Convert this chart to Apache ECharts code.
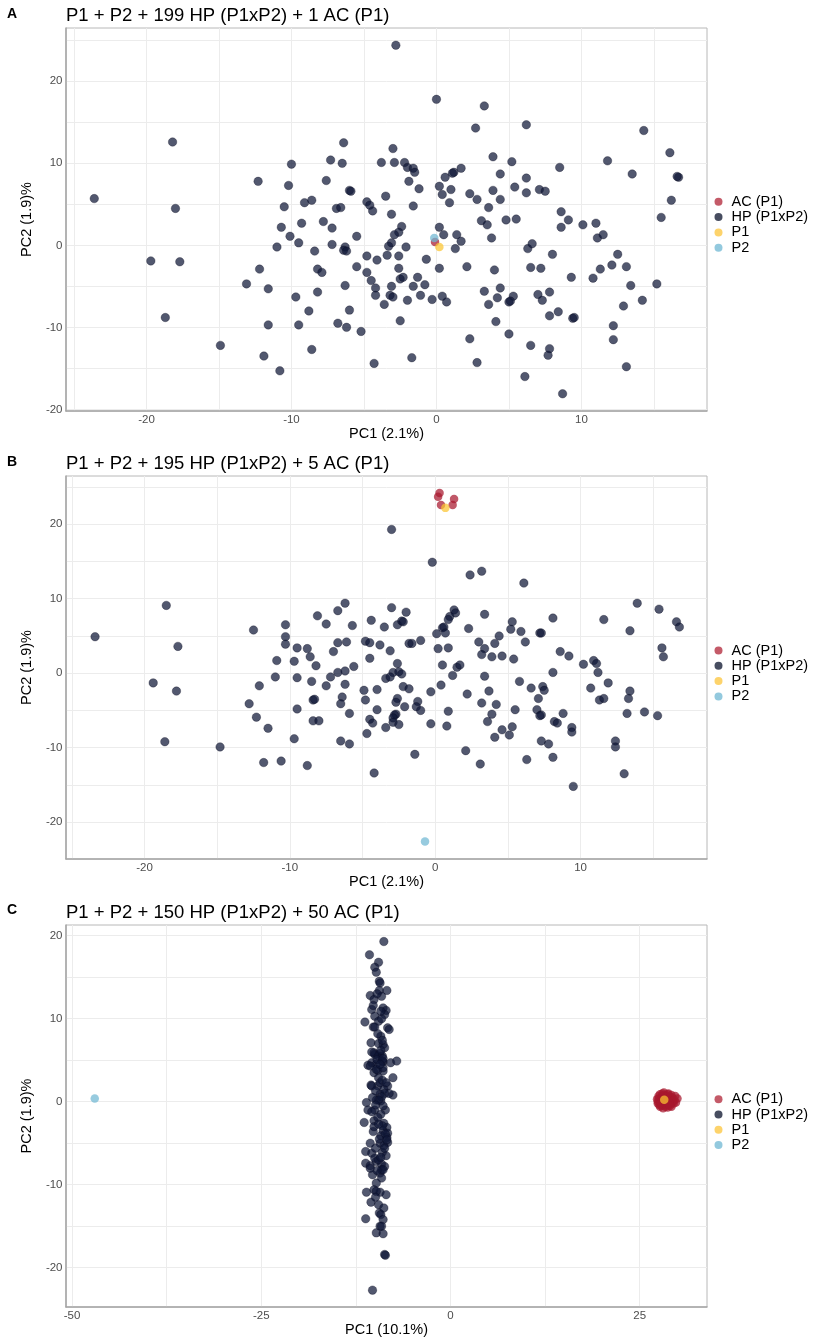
<!DOCTYPE html>
<html>
<head>
<meta charset="utf-8">
<script src="https://cdn.jsdelivr.net/npm/echarts@6/dist/echarts.min.js"></script>
<style>
html, body { margin: 0; padding: 0; background: #fff; }
#main { width: 820px; height: 1339px; }
</style>
</head>
<body>
<div id="main"></div>
<script>
// 面板A：199 HP + 1 AC
var aHP = [
  [-2.8,24.4],[-18.2,12.6],[-6.4,12.5],[-3.0,11.8],[-10.0,9.9],[-7.3,10.4],[-6.5,10.0],[-3.8,10.1],[-2.9,10.1],[-2.2,10.1],
  [-2.0,9.5],[-12.3,7.8],[-10.2,7.3],[-7.6,7.9],[-1.9,7.8],[-6.0,6.7],[-5.9,6.6],[-3.5,6.0],[-23.6,5.7],[-9.1,5.2],
  [-8.6,5.5],[-10.5,4.7],[-6.9,4.5],[-6.6,4.6],[-4.8,5.3],[-4.6,4.9],[-18.0,4.5],
  [-4.4,4.2],[-3.1,3.8],[-10.7,2.2],[-9.3,2.7],[-7.8,2.9],[-7.2,2.1],[-2.4,2.3],[-2.6,1.6],[-2.9,1.3],[-10.1,1.1],
  [-5.5,1.1],[-9.5,0.3],[-7.2,0.1],[-11.0,-0.2],[-6.3,-0.2],[-3.1,0.3],[-3.3,-0.1],[-2.1,-0.2],[-6.4,-0.6],[-6.2,-0.7],
  [-8.4,-0.7],[-19.7,-1.9],[-17.7,-2.0],[-4.8,-1.3],[-4.1,-1.8],[-3.4,-1.2],[-2.6,-1.3],[-12.2,-2.9],[-5.5,-2.6],[-8.2,-2.9],
  [-7.9,-3.3],[-4.8,-3.3],[-2.6,-2.8],[-4.5,-4.3],[-2.5,-4.1],[-2.3,-3.9],[-13.1,-4.7],[-6.3,-4.9],[-3.1,-5.0],[-4.2,-5.2],
  [-11.6,-5.3],[-8.2,-5.7],[-4.2,-6.1],[-3.2,-6.1],[-3.0,-6.3],[-2.0,-6.7],[-9.7,-6.3],[-3.6,-7.2],[-8.8,-8.0],[-6.0,-7.9],
  [-2.5,-9.2],[-18.7,-8.8],[-11.6,-9.7],[-9.5,-9.7],[-6.8,-9.5],[-6.2,-10.0],[-5.2,-10.5],[-14.9,-12.2],[-8.6,-12.7],[-11.9,-13.5],
  [-4.3,-14.4],[-10.8,-15.3],[-1.7,-13.7],
  [0.0,17.8],[3.3,17.0],[2.7,14.3],[6.2,14.7],[14.3,14.0],[16.1,11.3],[3.9,10.8],[5.2,10.2],[11.8,10.3],[8.5,9.5],
  [-1.6,9.4],[-1.5,8.9],[-1.2,6.9],[0.6,8.3],[1.2,8.9],[1.1,8.8],[1.7,9.4],[4.4,8.7],[6.2,8.2],[13.5,8.7],
  [16.7,8.3],[16.6,8.4],[0.2,7.2],[0.4,6.2],[1.0,6.8],[0.9,5.2],[2.3,6.3],[2.8,5.6],[3.9,6.7],[4.4,5.6],
  [5.4,7.1],[6.2,6.4],[7.1,6.8],[7.5,6.6],[3.6,4.6],[-1.6,4.8],[16.2,5.5],[8.6,4.1],
  [9.1,3.1],[8.6,2.2],[10.1,2.5],[11.0,2.7],[11.1,0.9],[11.5,1.3],[15.5,3.4],[3.1,3.0],[3.5,2.5],[4.8,3.1],
  [5.5,3.2],[0.2,2.2],[0.5,1.3],[1.4,1.3],[1.7,0.5],[1.3,-0.4],[3.8,0.9],[6.3,-0.4],[6.6,0.2],[8.0,-1.1],
  [-0.7,-1.7],[0.2,-2.8],[2.1,-2.6],[4.0,-3.0],[6.5,-2.7],[7.2,-2.8],[12.1,-2.4],[12.5,-1.1],[13.1,-2.6],[11.3,-2.9],
  [-1.3,-3.9],[-1.6,-5.0],[-0.8,-4.8],[-1.1,-6.1],[-0.3,-6.6],[0.4,-6.2],[0.7,-6.9],[9.3,-3.9],[10.8,-4.0],[13.4,-4.9],
  [15.2,-4.7],[3.3,-5.6],[4.4,-5.2],[4.2,-6.4],[5.3,-6.2],[5.0,-6.9],[5.1,-6.8],[3.6,-7.2],[7.0,-6.0],[7.8,-5.7],
  [7.3,-6.7],[14.2,-6.7],[12.9,-7.4],[4.1,-9.3],[7.8,-8.6],[8.4,-8.1],[9.4,-8.9],[9.5,-8.8],[12.2,-9.8],[5.0,-10.8],
  [2.3,-11.4],[6.5,-12.2],[7.8,-12.6],[7.7,-13.4],[12.2,-11.5],[2.8,-14.3],[13.1,-14.8],[6.1,-16.0],[8.7,-18.1]
];
var aAC = [[-0.1,0.4]];
var aP1 = [[0.2,-0.2]];
var aP2 = [[-0.15,0.9]];

// 面板B：195 HP + 5 AC
var bHP = [
  [-3.0,19.3],[-18.5,9.1],[-6.2,9.4],[-3.0,8.8],[-2.0,8.2],[-6.7,8.4],[-8.1,7.7],[-7.5,6.6],[-10.3,6.5],[-5.7,6.4],
  [-4.4,7.1],[-3.5,6.2],[-2.6,6.5],[-2.3,7.0],[-2.2,6.9],[-12.5,5.8],[-23.4,4.9],[-10.3,4.9],[-10.3,3.9],[-17.7,3.6],
  [-9.5,3.4],[-8.8,3.3],[-6.7,4.1],[-6.1,4.2],[-4.8,4.3],[-4.5,4.1],[-3.8,3.8],[-3.1,3.0],[-1.8,4.0],[-7.0,2.9],[-8.6,2.2],
  [-10.9,1.7],[-9.7,1.6],[-8.2,1.0],[-4.5,2.0],[-5.6,0.9],[-2.6,1.3],[-6.7,0.1],[-6.2,0.3],[-2.9,0.1],[-2.5,0.2],
  [-2.3,-0.1],[-11.0,-0.5],[-9.5,-0.6],[-7.2,-0.5],[-3.4,-0.7],[-3.1,-0.5],[-19.4,-1.3],[-12.1,-1.7],[-8.5,-1.1],[-7.5,-1.7],
  [-6.2,-1.5],[-2.2,-1.8],[-17.8,-2.4],[-4.9,-2.3],[-4.0,-2.2],[-1.8,-2.1],[-8.4,-3.6],[-8.3,-3.5],[-6.4,-3.2],[-4.8,-3.6],
  [-2.6,-3.4],[-2.7,-3.9],[-12.8,-4.1],[-6.5,-4.1],[-2.1,-4.5],[-9.5,-4.8],[-4.0,-4.9],[-5.9,-5.4],[-2.7,-5.5],[-2.8,-5.6],
  [-12.3,-5.9],[-2.9,-6.0],[-8.4,-6.4],[-8.0,-6.4],[-4.5,-6.2],[-4.3,-6.7],[-2.9,-6.6],[-2.5,-6.9],[-3.4,-7.3],[-11.5,-7.4],
  [-4.7,-8.1],[-9.7,-8.8],[-6.5,-9.1],[-5.9,-9.5],[-18.6,-9.2],[-14.8,-9.9],[-11.8,-12.0],[-10.6,-11.8],[-8.8,-12.4],[-4.2,-13.4],
  [-0.2,14.9],[2.4,13.2],[3.2,13.7],[6.1,12.1],[13.9,9.4],[15.4,8.6],[16.6,6.9],[16.8,6.2],[1.3,8.5],[1.4,8.1],
  [1.0,7.6],[0.9,7.2],[3.4,7.9],[8.1,7.4],[11.6,7.2],[5.3,6.9],[0.5,6.1],[0.6,6.2],[2.3,6.0],[5.2,5.9],
  [5.9,5.6],[7.2,5.4],[7.3,5.4],[13.4,5.7],[0.1,5.3],[0.7,5.4],[4.4,5.0],[-1.6,4.0],[-1.0,4.4],[3.0,4.2],
  [4.1,4.0],[6.2,4.2],[0.2,3.3],[0.9,3.4],[3.4,3.3],[15.6,3.4],[3.2,2.5],[8.6,2.9],[9.2,2.3],[3.9,2.2],
  [4.6,2.3],[5.4,1.9],[15.7,2.2],
  [0.5,1.1],[1.5,0.8],[1.7,1.1],[1.2,-0.3],[0.4,-1.6],[3.4,-0.4],[5.8,-1.1],[8.1,0.1],[10.2,1.2],[10.9,1.7],
  [11.1,1.3],[11.2,0.1],[11.9,-1.3],[10.7,-2.0],[-0.3,-2.5],[2.2,-2.8],[3.7,-2.4],[6.6,-2.0],[7.4,-1.8],[7.5,-2.3],
  [7.1,-3.4],[13.4,-2.4],[13.3,-3.4],[11.3,-3.6],[11.6,-3.4],[-1.2,-3.8],[-1.3,-4.5],[-1.0,-5.0],[0.9,-5.1],[3.2,-4.0],
  [4.2,-4.2],[5.5,-4.9],[3.9,-5.5],[7.0,-4.9],[7.3,-5.6],[7.2,-5.7],[8.8,-5.4],[13.2,-5.4],[14.4,-5.2],[15.3,-5.7],
  [-0.3,-6.8],[0.8,-7.1],[3.6,-6.5],[4.6,-7.6],[5.3,-7.2],[5.1,-8.3],[4.1,-8.6],[8.2,-6.5],[8.4,-6.7],[9.4,-7.3],
  [9.4,-7.9],[7.3,-9.1],[7.8,-9.5],[12.4,-9.1],[12.4,-9.9],[-1.4,-10.9],[2.1,-10.4],[6.3,-11.6],[8.1,-11.3],[3.1,-12.2],
  [13.0,-13.5],[9.5,-15.2]
];
var bAC = [[0.3,24.2],[0.2,23.7],[1.3,23.4],[0.4,22.6],[1.2,22.6]];
var bP1 = [[0.7,22.2]];
var bP2 = [[-0.7,-22.6]];

// 面板C：150 HP + 50 AC
var cHP = [
  [-8.8,19.3],[-10.7,17.7],[-9.5,16.8],[-10.0,16.2],[-9.8,15.6],[-9.4,14.5],[-9.3,14.3],[-9.4,13.4],[-8.4,13.4],[-10.6,12.8],
  [-10.1,12.3],[-9.1,12.7],[-10.4,11.1],[-8.9,11.3],[-8.5,11.0],[-10.0,10.3],[-8.7,10.5],[-9.5,9.7],[-11.3,9.6],[-9.1,10.0],
  [-10.2,9.0],[-8.3,8.9],[-8.1,8.7],[-9.2,7.9],[-10.5,7.1],[-9.5,7.0],[-8.9,6.9],[-8.7,6.5],[-10.1,5.9],[-9.3,5.8],
  [-9.6,5.5],[-9.0,5.5],[-10.4,4.7],[-10.9,4.4],[-9.8,4.5],[-8.9,4.8],[-7.9,4.7],[-7.1,4.9],[-10.1,3.5],[-8.9,3.7],
  [-9.5,2.9],[-7.6,2.9],[-10.5,2.0],[-9.6,1.9],[-8.3,1.9],[-8.8,1.5],[-9.3,0.9],[-7.6,0.8],[-8.1,1.0],[-9.8,0.2],
  [-11.1,-0.1],[-9.2,0.1],[-10.9,-1.0],[-10.0,-1.0],[-8.6,-1.0],[-9.2,-1.5],[-11.4,-2.5],[-10.1,-2.3],[-8.8,-2.6],[-8.4,-3.1],
  [-10.2,-3.6],[-8.9,-3.5],[-8.3,-3.8],[-9.2,-4.1],[-8.4,-4.3],[-10.6,-5.0],[-9.3,-5.0],[-8.3,-4.9],[-11.2,-6.0],[-10.4,-6.2],
  [-9.0,-6.1],[-8.5,-6.5],[-11.2,-7.4],[-10.6,-7.7],[-9.8,-7.2],[-9.1,-7.5],[-8.7,-7.8],[-10.3,-8.8],[-9.3,-8.6],[-9.1,-9.2],
  [-9.8,-9.8],[-11.1,-10.9],[-10.1,-10.6],[-9.3,-10.9],[-8.5,-11.2],[-10.5,-12.1],[-9.5,-12.4],[-9.4,-13.4],[-9.2,-13.6],[-8.9,-14.2],
  [-11.2,-14.1],[-9.3,-15.0],[-9.8,-15.8],[-8.9,-15.9],[-8.7,-18.4],[-8.6,-18.5],[-10.3,-22.7],
  [-10.0,5.7],[-9.7,5.1],[-10.6,4.3],[-9.0,4.9],[-10.4,1.9],[-9.3,2.3],[-8.7,1.0],[-9.1,0.6],[-9.5,0.2],[-9.9,-0.4],
  [-10.4,-1.2],[-9.1,-8.2],[-9.8,-10.8],[-9.1,-15.0],[-9.2,6.2],[-8.9,5.2],[-9.6,3.8],[-9.0,2.6],[-8.5,2.3],[-9.9,1.3],
  [-10.3,0.5],[-8.9,-0.5],[-9.6,-1.9],[-9.0,-2.9],[-8.6,-3.9],[-9.4,-4.5],[-8.8,-5.3],[-9.9,-5.6],[-10.0,-6.8],[-9.5,-7.0],
  [-8.9,-8.2],[-9.7,-8.3],[-10.1,-3.0],[-9.5,-2.7],[-9.8,3.9],[-10.4,6.0],[-9.0,7.4],[-9.6,8.2],[-10.0,9.0],[-9.2,10.9],
  [-10.2,11.6],[-9.7,13.0],[-8.9,4.1],[-9.3,4.5],[-8.4,-4.6],[-8.7,-5.6],[-9.2,-6.7],[-10.6,-8.0],[-9.9,-11.5],[-8.8,-12.8]
];
var cAC = [
  [28.2,1.1],[27.7,0.9],[28.8,1.0],[27.3,0.3],[27.5,0.7],[29.3,0.5],[30.0,0.4],[29.7,0.7],[27.4,-0.2],[27.7,-0.6],
  [28.1,-0.8],[28.7,-0.7],[29.2,-0.6],[29.5,-0.2],[29.8,-0.1],[27.9,0.3],[28.4,0.5],[28.9,0.1],[28.1,-0.3],[27.6,0.1],
  [29.1,0.3],[28.6,0.7],[28.0,0.7],[28.3,-0.1],[28.8,-0.4],[27.8,-0.3],[29.4,0.0],[28.0,0.0],[28.5,0.2],[27.5,0.4],
  [29.0,0.6],[28.2,0.8],[27.9,-0.5],[28.4,-0.6],[29.1,-0.2],[28.6,-0.1],[27.9,0.5],[28.3,0.4],[29.2,0.8],[27.6,-0.4],
  [28.7,0.9],[28.1,0.2],[29.6,0.2],[28.5,-0.4],[27.4,0.0],[28.9,-0.1],[28.0,1.0],[29.0,-0.5],[27.8,-0.1],[28.4,0.0]
];
var cP1 = [[28.25,0.25]];
var cP2 = [[-47.0,0.4]];

// 刻度
var xTicksAB = [-20, -10, 0, 10];
var xGridAB = [-25, -20, -15, -10, -5, 0, 5, 10, 15];
var yTicksA = [-20, -10, 0, 10, 20];
var yGridA = [-20, -15, -10, -5, 0, 5, 10, 15, 20, 25];
var yTicksB = [-20, -10, 0, 10, 20];
var yGridB = [-20, -15, -10, -5, 0, 5, 10, 15, 20, 25];
var xTicksC = [-50, -25, 0, 25];
var xGridC = [-50, -37.5, -25, -12.5, 0, 12.5, 25];
var yTicksC = [-20, -10, 0, 10, 20];
var yGridC = [-20, -15, -10, -5, 0, 5, 10, 15, 20];

var groups = ['AC (P1)', 'HP (P1xP2)', 'P1', 'P2'];
var panels = [
  {letter: 'A', title: 'P1 + P2 + 199 HP (P1xP2) + 1 AC (P1)', xName: 'PC1 (2.1%)', yName: 'PC2 (1.9)%',
   sets: [aAC, aHP, aP1, aP2], xTicks: xTicksAB, xGrid: xGridAB, yTicks: yTicksA, yGrid: yGridA,
   xMin: -25.55, xMax: 18.66, yMin: -20.2, yMax: 26.5, top: 28, height: 383, titleTop: 6.3, legendTop: 194.3},
  {letter: 'B', title: 'P1 + P2 + 195 HP (P1xP2) + 5 AC (P1)', xName: 'PC1 (2.1%)', yName: 'PC2 (1.9)%',
   sets: [bAC, bHP, bP1, bP2], xTicks: xTicksAB, xGrid: xGridAB, yTicks: yTicksB, yGrid: yGridB,
   xMin: -25.4, xMax: 18.7, yMin: -24.95, yMax: 26.48, top: 476, height: 383, titleTop: 454.6, legendTop: 643},
  {letter: 'C', title: 'P1 + P2 + 150 HP (P1xP2) + 50 AC (P1)', xName: 'PC1 (10.1%)', yName: 'PC2 (1.9)%',
   sets: [cAC, cHP, cP1, cP2], xTicks: xTicksC, xGrid: xGridC, yTicks: yTicksC, yGrid: yGridC,
   xMin: -50.8, xMax: 33.9, yMin: -24.73, yMax: 21.29, top: 925, height: 382, titleTop: 903, legendTop: 1091.7}
];

var fill = {'AC (P1)': '#a8182e', 'HP (P1xP2)': '#0f1737', 'P1': '#fbc531', 'P2': '#6fb7d3'};
var keyFill = {'AC (P1)': '#c45a68', 'HP (P1xP2)': '#474d60', 'P1': '#fdd36b', 'P2': '#93c9de'};
var font = 'Liberation Sans, Arial, sans-serif';

var chart = echarts.init(document.getElementById('main'), null, {renderer: 'canvas'});

var grids = [], xAxes = [], yAxes = [], series = [], titles = [], legends = [];
panels.forEach(function (p, i) {
  grids.push({left: 66, width: 641, top: p.top, height: p.height, show: true,
    borderColor: '#b8b8b8', borderWidth: 1, backgroundColor: '#fff'});
  xAxes.push({
    type: 'value', gridIndex: i, min: p.xMin, max: p.xMax,
    name: p.xName, nameLocation: 'middle', nameGap: 14.5,
    nameTextStyle: {fontFamily: font, fontSize: 14.5, color: '#000'},
    axisLine: {show: true, onZero: false, lineStyle: {color: '#a6a6a6', width: 1.5}},
    axisTick: {show: false, customValues: p.xGrid},
    axisLabel: {customValues: p.xTicks, margin: 2.5, fontFamily: font, fontSize: 11.5, color: '#4d4d4d'},
    splitLine: {show: true, lineStyle: {color: '#ececec', width: 1}}
  });
  yAxes.push({
    type: 'value', gridIndex: i, min: p.yMin, max: p.yMax,
    name: p.yName, nameLocation: 'middle', nameGap: 21, nameRotate: 90,
    nameTextStyle: {fontFamily: font, fontSize: 14.5, color: '#000'},
    axisLine: {show: true, onZero: false, lineStyle: {color: '#a6a6a6', width: 1.5}},
    axisTick: {show: false, customValues: p.yGrid},
    axisLabel: {customValues: p.yTicks, margin: 3.5, fontFamily: font, fontSize: 11.5, color: '#4d4d4d'},
    splitLine: {show: true, lineStyle: {color: '#ececec', width: 1}}
  });
  // 画点的顺序：HP、AC、P1、P2
  [1, 0, 2, 3].forEach(function (g) {
    var name = groups[g];
    series.push({
      name: name, type: 'scatter', xAxisIndex: i, yAxisIndex: i,
      data: p.sets[g],
      symbolSize: 8.5,
      itemStyle: {
        color: fill[name], opacity: 0.72,
        borderColor: name === 'HP (P1xP2)' ? 'rgba(5,8,25,0.7)' : 'rgba(0,0,0,0)',
        borderWidth: 0.6
      },
      emphasis: {disabled: true}
    });
  });
  titles.push({text: p.letter, left: 7, top: p.titleTop + 0.5, padding: 0,
    textStyle: {fontFamily: font, fontSize: 14, fontWeight: 'bold', color: '#000'}});
  titles.push({text: p.title, left: 66, top: p.titleTop, padding: 0,
    textStyle: {fontFamily: font, fontSize: 18.5, fontWeight: 'normal', color: '#000'}});
  legends.push({
    orient: 'vertical', left: 714.5, top: p.legendTop, padding: 0,
    itemWidth: 8, itemHeight: 8, itemGap: 0.3, icon: 'circle', selectedMode: false,
    textStyle: {fontFamily: font, fontSize: 14.5, color: '#000', lineHeight: 14, padding: [0, 0, 0, 4]},
    data: groups.map(function (g) {
      return {name: g, itemStyle: {color: keyFill[g], opacity: 1, borderWidth: 0}};
    })
  });
});

var option = {
  animation: false,
  backgroundColor: '#fff',
  title: titles,
  legend: legends,
  grid: grids,
  xAxis: xAxes,
  yAxis: yAxes,
  series: series
};
chart.setOption(option);
</script>
</body>
</html>
